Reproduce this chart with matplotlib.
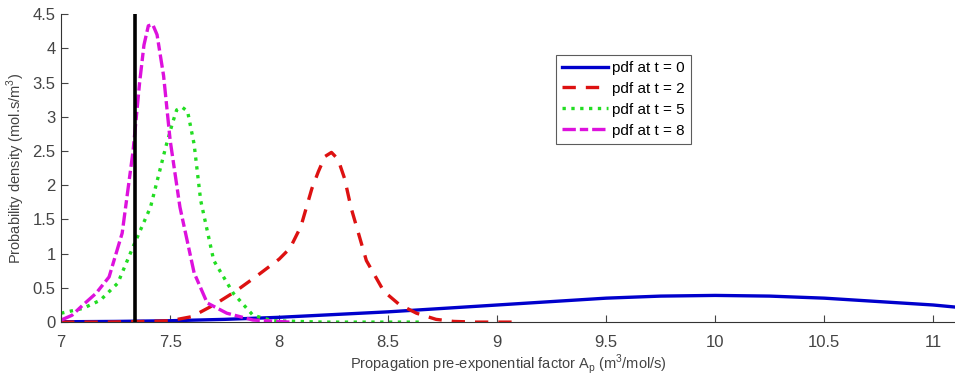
import numpy as np
import matplotlib.pyplot as plt

plt.rcParams['font.family'] = ['Liberation Sans', 'DejaVu Sans']

# pdf at t = 0 (broad, blue)
x_t0 = [7.0, 7.25, 7.5, 7.75, 8.0, 8.25, 8.5, 8.75, 9.0, 9.25, 9.5, 9.75, 10.0,
        10.25, 10.5, 10.75, 11.0, 11.1]
y_t0 = [0.005, 0.01, 0.02, 0.04, 0.07, 0.11, 0.15, 0.2, 0.25, 0.3, 0.35, 0.38, 0.39,
        0.38, 0.35, 0.3, 0.25, 0.22]

# pdf at t = 2 (red dashed)
x_t2 = [7.0, 7.2, 7.4, 7.5, 7.6, 7.7, 7.8, 7.9, 8.0, 8.05, 8.1, 8.15, 8.18, 8.21, 8.24,
        8.27, 8.3, 8.33, 8.4, 8.48, 8.55, 8.63, 8.72, 8.8, 8.9, 9.1]
y_t2 = [0.0, 0.0, 0.01, 0.02, 0.08, 0.25, 0.45, 0.68, 0.92, 1.08, 1.4, 1.95, 2.2, 2.42, 2.48,
        2.38, 2.1, 1.67, 0.9, 0.45, 0.26, 0.13, 0.04, 0.01, 0.0, 0.0]

# pdf at t = 5 (green dotted)
x_t5 = [7.0, 7.1, 7.18, 7.26, 7.33, 7.41, 7.48, 7.51, 7.53, 7.555, 7.58, 7.61, 7.64, 7.7,
        7.79, 7.88, 7.97, 8.2, 8.66]
y_t5 = [0.13, 0.2, 0.32, 0.57, 1.1, 1.68, 2.56, 2.9, 3.1, 3.14, 3.08, 2.6, 1.78, 0.9,
        0.42, 0.1, 0.02, 0.0, 0.0]

# pdf at t = 8 (magenta dash-dot)
x_t8 = [7.0, 7.05, 7.1, 7.16, 7.22, 7.28, 7.33, 7.36, 7.38, 7.40, 7.42, 7.44, 7.47, 7.5,
        7.545, 7.61, 7.67, 7.76, 7.88, 8.05]
y_t8 = [0.03, 0.1, 0.25, 0.42, 0.66, 1.3, 2.5, 3.5, 4.05, 4.33, 4.35, 4.2, 3.6, 2.66,
        1.68, 0.72, 0.28, 0.13, 0.03, 0.0]

x_line = 7.34

fig, ax = plt.subplots(figsize=(9.55, 3.83), dpi=100)
fig.subplots_adjust(left=0.064, right=1.0, bottom=0.159, top=0.963)

ax.plot(x_t0, y_t0, color='#0000cc', lw=2.4, label='pdf at t = 0')
ax.plot(x_t2, y_t2, color='#dd1111', lw=2.4, dashes=(4, 3), label='pdf at t = 2')
ax.plot(x_t5, y_t5, color='#22dd22', lw=2.4, linestyle=':', label='pdf at t = 5')
ax.plot(x_t8, y_t8, color='#dd11dd', lw=2.4, dashes=(4, 1.2, 2.5, 1.2), label='pdf at t = 8')
ax.plot([x_line, x_line], [0, 4.5], color='black', lw=2.6)

ax.set_xlim(7, 11.1)
ax.set_ylim(0, 4.5)
ax.set_xticks(np.arange(7, 11.01, 0.5))
ax.set_xticklabels(['7', '7.5', '8', '8.5', '9', '9.5', '10', '10.5', '11'])
ax.set_yticks(np.arange(0, 4.51, 0.5))
ax.set_yticklabels(['0', '0.5', '1', '1.5', '2', '2.5', '3', '3.5', '4', '4.5'])
ax.tick_params(direction='in', length=5, labelsize=12, colors='#444444')
ax.tick_params(axis='x', pad=9)
ax.tick_params(axis='y', pad=4)
ax.spines['top'].set_visible(False)
ax.spines['right'].set_visible(False)
ax.spines['left'].set_color('#333333')
ax.spines['bottom'].set_color('#333333')

ax.set_xlabel('Propagation pre-exponential factor A$_\\mathregular{p}$ (m$^\\mathregular{3}$/mol/s)',
              fontsize=10.5, color='#444444', labelpad=2)
ax.set_ylabel('Probability density (mol.s/m$^\\mathregular{3}$)', fontsize=10.5,
              color='#444444', labelpad=4)

leg = ax.legend(loc='upper left', bbox_to_anchor=(0.5535, 0.868), fontsize=11,
                frameon=True, fancybox=False, handlelength=3.0, handletextpad=0.3,
                borderpad=0.4, labelspacing=0.45, borderaxespad=0)
leg.get_frame().set_edgecolor('#333333')
leg.get_frame().set_linewidth(0.8)

fig.savefig('out.png', dpi=100)
